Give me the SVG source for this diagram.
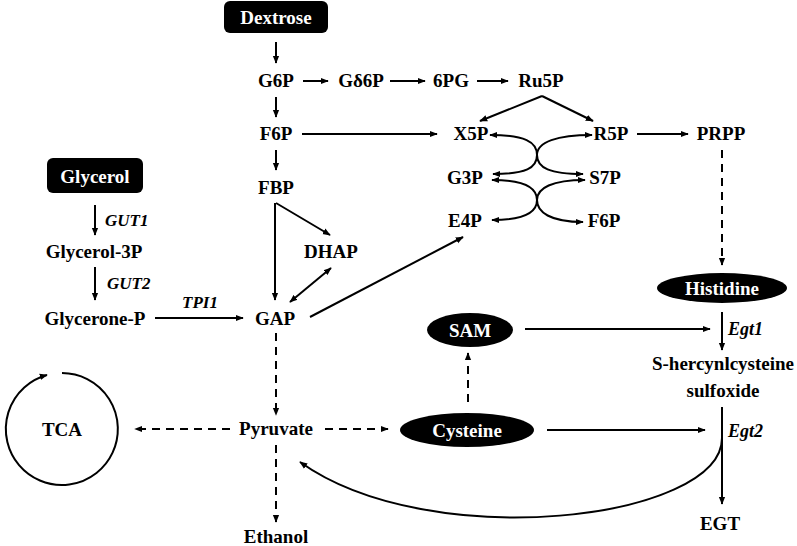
<svg xmlns="http://www.w3.org/2000/svg" width="797" height="546" viewBox="0 0 797 546" font-family="'Liberation Serif', Tinos, 'Times New Roman', 'DejaVu Serif', serif">
<style>
text{font-family:'Liberation Serif', Tinos, 'Times New Roman', 'DejaVu Serif', serif}
.t{font-weight:bold;font-size:19px;fill:#000;text-anchor:middle}
.w{fill:#fff}
.i{font-style:italic;text-anchor:start;font-size:18px}
.c{fill:none;stroke:#000;stroke-width:2}
.d{stroke-dasharray:8 6}
.b{fill:#000}
</style>
<defs>
<marker id="ah" viewBox="0 0 10 10" refX="9" refY="5" markerWidth="8" markerHeight="8" markerUnits="userSpaceOnUse" orient="auto-start-reverse">
<path d="M0,1 L10,5 L0,9 z" fill="#000"/>
</marker>
</defs>
<rect width="797" height="546" fill="#fff"/>
<g id="connectors">
<path class="c" d="M276,42 L276,63" marker-end="url(#ah)"/>
<path class="c" d="M276,97 L276,117" marker-end="url(#ah)"/>
<path class="c" d="M276,150 L276,170" marker-end="url(#ah)"/>
<path class="c" d="M303,81 L328,81" marker-end="url(#ah)"/>
<path class="c" d="M390,81 L425,81" marker-end="url(#ah)"/>
<path class="c" d="M477,81 L508,81" marker-end="url(#ah)"/>
<path class="c" d="M542,96 L480,121" marker-end="url(#ah)"/>
<path class="c" d="M542,96 L593,121" marker-end="url(#ah)"/>
<path class="c" d="M302,134 L437,134" marker-end="url(#ah)"/>
<path class="c" d="M637,134 L688,134" marker-end="url(#ah)"/>
<path class="c d" d="M722,150 L722,265" marker-end="url(#ah)"/>
<path class="c" d="M490,135 C525,135 537,142 537,155 C537,168 550,174 583,174" marker-start="url(#ah)" marker-end="url(#ah)"/>
<path class="c" d="M592,135 C557,135 537,142 537,155 C537,168 526,174 493,174" marker-start="url(#ah)" marker-end="url(#ah)"/>
<path class="c" d="M492,180 C525,180 537,188 537,200 C537,212 550,222 583,222" marker-start="url(#ah)" marker-end="url(#ah)"/>
<path class="c" d="M585,180 C552,180 537,188 537,200 C537,212 526,220 492,220" marker-start="url(#ah)" marker-end="url(#ah)"/>
<path class="c" d="M95,205 L95,235" marker-end="url(#ah)"/>
<path class="c" d="M95,267 L95,300" marker-end="url(#ah)"/>
<path class="c" d="M155,318 L243,318" marker-end="url(#ah)"/>
<path class="c" d="M275,203 L275,300" marker-end="url(#ah)"/>
<path class="c" d="M276,203 L330,235" marker-end="url(#ah)"/>
<path class="c" d="M331,268 L290,302" marker-start="url(#ah)" marker-end="url(#ah)"/>
<path class="c" d="M310,317 L463,237" marker-end="url(#ah)"/>
<path class="c d" d="M276,333 L276,415" marker-end="url(#ah)"/>
<path class="c d" d="M230,429 L135,429" marker-end="url(#ah)"/>
<path class="c d" d="M325,429 L388,429" marker-end="url(#ah)"/>
<path class="c d" d="M276,445 L276,522" marker-end="url(#ah)"/>
<path class="c d" d="M468,402 L468,353" marker-end="url(#ah)"/>
<path class="c" d="M525,329 L710,329" marker-end="url(#ah)"/>
<path class="c" d="M722,312 L722,350" marker-end="url(#ah)"/>
<path class="c" d="M547,430 L705,430" marker-end="url(#ah)"/>
<path class="c" d="M722,407 L722,504" marker-end="url(#ah)"/>
<path class="c" d="M722,438 C722,520 430,555 300,462" marker-end="url(#ah)"/>
<path class="c" d="M62,373 A56,56 0 1 1 47,375" marker-end="url(#ah)"/>
</g>
<g id="dextrose"><rect class="b" x="224" y="1" width="104" height="32" rx="6"/><text class="t w" x="276" y="24">Dextrose</text></g>
<g id="g6p"><text class="t" x="276" y="87">G6P</text></g>
<g id="gd6p"><text class="t" x="361" y="87">Gδ6P</text></g>
<g id="pg6"><text class="t" x="451" y="87">6PG</text></g>
<g id="ru5p"><text class="t" x="541" y="87">Ru5P</text></g>
<g id="f6p"><text class="t" x="276" y="140">F6P</text></g>
<g id="x5p"><text class="t" x="471" y="140">X5P</text></g>
<g id="r5p"><text class="t" x="611" y="140">R5P</text></g>
<g id="prpp"><text class="t" x="721" y="140">PRPP</text></g>
<g id="g3p"><text class="t" x="465" y="184">G3P</text></g>
<g id="s7p"><text class="t" x="605" y="184">S7P</text></g>
<g id="e4p"><text class="t" x="465" y="227">E4P</text></g>
<g id="f6p2"><text class="t" x="604" y="227">F6P</text></g>
<g id="fbp"><text class="t" x="276" y="194">FBP</text></g>
<g id="dhap"><text class="t" x="331" y="258">DHAP</text></g>
<g id="glycerol"><rect class="b" x="47" y="158" width="96" height="35" rx="6"/><text class="t w" x="95" y="183">Glycerol</text></g>
<g id="glycerol3p"><text class="t" x="94" y="258">Glycerol-3P</text></g>
<g id="glyceronep"><text class="t" x="95" y="325">Glycerone-P</text></g>
<g id="gap"><text class="t" x="275" y="325">GAP</text></g>
<g id="histidine"><ellipse class="b" cx="722" cy="288" rx="65" ry="15"/><text class="t w" x="722" y="295">Histidine</text></g>
<g id="sam"><ellipse class="b" cx="470" cy="330" rx="43" ry="17"/><text class="t w" x="470" y="337">SAM</text></g>
<g id="shcs"><text class="t" x="723" y="370">S-hercynlcysteine</text><text class="t" x="723" y="397">sulfoxide</text></g>
<g id="tca"><text class="t" x="62" y="436">TCA</text></g>
<g id="pyruvate"><text class="t" x="276" y="435">Pyruvate</text></g>
<g id="cysteine"><ellipse class="b" cx="467" cy="430" rx="67" ry="17"/><text class="t w" x="467" y="437">Cysteine</text></g>
<g id="egt"><text class="t" x="720" y="530">EGT</text></g>
<g id="ethanol"><text class="t" x="276" y="543">Ethanol</text></g>
<g id="labels">
<text class="t i" x="105" y="226" style="font-size:17px">GUT1</text>
<text class="t i" x="107" y="289" style="font-size:17px">GUT2</text>
<text class="t i" x="182" y="308" style="font-size:17px">TPI1</text>
<text class="t i" x="728" y="335">Egt1</text>
<text class="t i" x="728" y="437">Egt2</text>
</g>
</svg>
